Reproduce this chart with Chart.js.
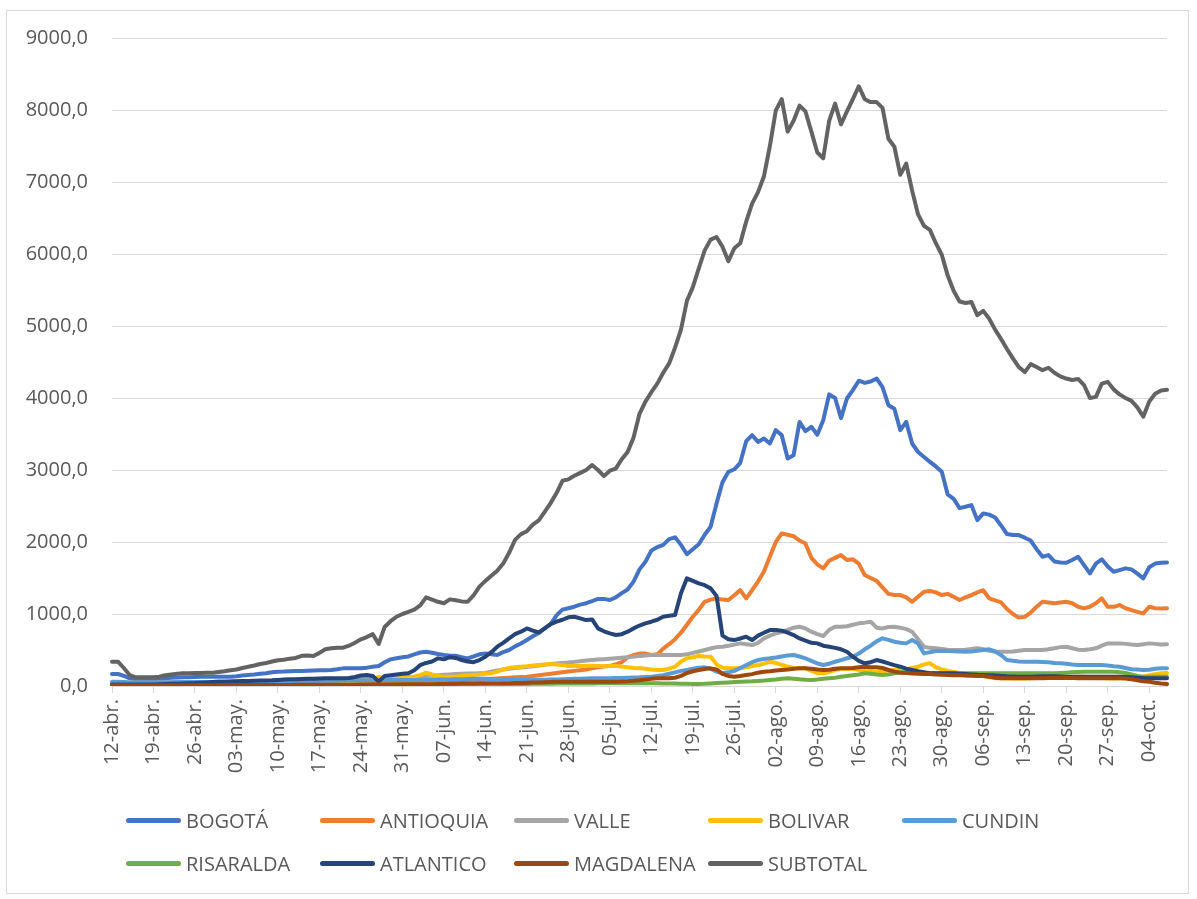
<!DOCTYPE html>
<html>
<head>
<meta charset="utf-8">
<script src="https://cdn.jsdelivr.net/npm/chart.js@4/dist/chart.umd.min.js"></script>
<style>
  html, body { margin:0; padding:0; background:#fff; }
  body { width:1197px; height:899px; position:relative; overflow:hidden; font-family:"Open Sans", sans-serif; }
  #frame { position:absolute; left:6px; top:10px; width:1183px; height:884px; border:1px solid #D9D9D9; box-sizing:border-box; }
  #wrap { position:absolute; left:0; top:0; width:1197px; height:899px; }
  .lg { position:absolute; display:flex; align-items:center; height:24px; color:#595959; font-size:20px; white-space:nowrap; }
  .lg span.ln { display:inline-block; width:55px; height:5px; border-radius:3px; margin-right:5px; }
</style>
</head>
<body>
<div id="frame"></div>
<div id="wrap"><canvas id="c"></canvas></div>
<div id="legend"></div>
<script>
// ---- categories (daily, 12-abr to 07-oct) ----
const startDate = [2020, 3, 12];
const monthNames = ['ene.','feb.','mar.','abr.','may.','jun.','jul.','ago.','sep.','oct.','nov.','dic.'];
const nDays = 179;
const categories = [];
for (let i = 0; i < nDays; i++) {
  const d = new Date(Date.UTC(startDate[0], startDate[1], startDate[2] + i));
  categories.push(String(d.getUTCDate()).padStart(2,'0') + '-' + monthNames[d.getUTCMonth()]);
}
const tickEvery = 7;
const yTicks = [0,1000,2000,3000,4000,5000,6000,7000,8000,9000];

// ---- series ----
const BOGOTA = [
167,167,140,107,95,93,93,93,100,108,
115,118,120,122,125,127,128,130,130,130,
130,135,145,153,160,170,178,190,197,200,
205,208,210,213,215,218,220,222,232,245,
245,245,245,255,268,278,330,370,385,400,
410,440,465,476,462,445,430,420,420,400,
384,410,440,453,440,430,470,500,550,590,
640,690,735,800,860,980,1060,1080,1101,1130,
1150,1180,1210,1210,1194,1230,1290,1340,1450,1620,
1725,1880,1930,1960,2040,2065,1960,1830,1900,1970,
2100,2211,2536,2830,2975,3010,3100,3400,3484,3390,
3437,3368,3553,3484,3160,3206,3668,3540,3600,3490,
3690,4050,4000,3720,3993,4110,4240,4210,4230,4271,
4150,3900,3850,3553,3668,3368,3250,3180,3113,3050,
2975,2660,2600,2470,2490,2512,2304,2397,2380,2340,
2230,2110,2096,2096,2060,2020,1900,1795,1818,1730,
1715,1711,1750,1795,1680,1564,1700,1760,1660,1587,
1610,1634,1620,1560,1495,1650,1700,1711,1715];

const ANTIOQUIA = [
30,30,30,28,28,28,28,28,30,30,
30,30,30,30,32,32,32,33,33,33,
35,35,36,37,38,38,40,40,40,42,
42,43,45,45,47,48,50,50,52,52,
55,55,55,58,58,60,60,62,65,65,
68,70,70,72,75,75,78,80,80,82,
85,88,90,95,100,105,110,115,120,125,
130,140,150,160,170,180,190,200,210,220,
230,245,260,270,280,300,330,400,430,450,
450,430,440,520,580,650,740,850,962,1060,
1170,1200,1217,1200,1194,1260,1332,1217,1330,1450,
1590,1800,2000,2119,2100,2080,2020,1980,1780,1690,
1634,1740,1780,1818,1750,1760,1700,1541,1500,1460,
1370,1280,1263,1263,1230,1170,1240,1309,1320,1300,
1263,1280,1240,1194,1230,1263,1300,1330,1217,1190,
1160,1070,1000,950,960,1020,1100,1170,1160,1148,
1160,1170,1150,1100,1078,1100,1150,1217,1100,1100,
1124,1080,1055,1030,1009,1101,1080,1078,1080];

const VALLE = [
50,50,50,50,48,48,48,48,50,50,
52,52,53,54,55,55,56,57,58,60,
60,62,62,64,65,66,68,70,70,72,
74,75,76,78,80,82,84,85,88,90,
92,95,98,100,102,105,108,110,115,120,
125,130,135,140,145,150,155,160,165,170,
172,175,178,182,200,215,230,240,250,258,
265,275,285,295,305,312,318,325,335,345,
355,362,367,372,378,385,393,400,408,415,
422,430,430,430,430,430,430,440,460,480,
500,520,540,546,560,575,592,580,569,600,
662,700,731,750,780,810,823,800,754,720,
694,780,823,823,830,850,870,880,893,810,
800,820,823,810,790,754,650,546,530,523,
515,505,500,500,505,515,523,510,490,476,
476,476,480,490,500,500,500,500,510,525,
540,546,525,505,500,510,523,560,592,592,
592,585,575,569,580,592,585,578,580];

const BOLIVAR = [
20,20,20,20,20,20,20,20,20,20,
20,20,22,22,22,22,22,22,24,24,
24,25,25,26,26,27,28,28,30,30,
32,32,34,35,36,38,40,42,44,46,
50,55,60,70,80,130,110,100,100,110,
120,130,150,185,160,140,130,130,130,140,
150,153,160,170,176,200,230,250,260,268,
275,285,292,300,305,300,290,278,278,278,
280,280,278,275,278,278,270,260,250,245,
240,230,222,222,240,268,340,384,400,416,
410,407,300,255,245,245,245,260,275,292,
310,337,320,292,270,250,245,245,210,180,
176,195,222,240,240,240,222,210,205,199,
205,215,222,222,230,250,268,300,315,260,
230,210,195,180,170,160,153,140,120,107,
107,107,105,105,105,107,110,110,112,115,
118,120,125,130,130,125,115,110,107,105,
107,110,115,120,130,150,165,176,180];

const CUNDIN = [
60,60,55,50,50,50,50,50,52,52,
52,54,55,55,55,55,56,56,58,58,
60,60,60,60,62,62,63,64,65,65,
66,66,68,68,70,70,72,72,74,75,
75,76,78,78,80,80,80,82,82,84,
85,85,86,88,90,90,92,92,94,95,
97,100,100,100,98,96,95,92,90,88,
85,85,86,88,90,92,95,98,100,102,
105,107,108,108,108,110,112,115,118,120,
125,130,140,150,170,190,210,222,240,255,
259,240,200,176,190,210,250,290,330,360,
375,384,395,410,425,430,410,384,350,315,
292,310,337,360,385,407,450,510,560,620,
662,640,615,600,592,638,590,453,470,485,
490,485,482,478,476,480,490,500,509,480,
430,361,350,340,337,337,337,335,330,320,
315,310,300,292,292,292,292,290,285,275,
268,250,232,228,222,225,240,245,245];

const RISARALDA = [
8,8,8,8,8,8,8,8,8,8,
9,9,9,9,9,10,10,10,10,10,
10,11,11,11,11,12,12,12,12,12,
13,13,13,13,14,14,14,15,15,15,
15,16,16,16,17,17,18,18,18,19,
19,20,20,20,21,21,22,22,22,23,
23,24,24,25,25,26,26,27,28,28,
29,30,30,31,32,33,33,34,35,35,
36,36,37,37,37,37,37,37,37,37,
37,37,37,36,35,34,32,30,28,28,
30,35,40,45,50,55,60,62,65,70,
75,83,90,100,107,100,93,88,85,90,
100,107,115,130,140,150,160,176,170,160,
153,160,175,190,199,190,180,176,176,176,
176,176,176,176,176,176,176,176,176,176,
176,176,176,176,176,176,176,176,176,176,
180,185,190,195,199,199,199,199,199,199,
190,180,160,140,130,130,130,130,130];

const ATLANTICO = [
20,20,20,20,20,20,20,22,25,28,
30,32,35,38,40,45,50,55,58,60,
62,65,68,70,72,75,78,80,85,90,
93,95,97,100,102,104,106,107,107,107,
110,125,145,153,139,60,139,150,160,170,
176,220,290,320,340,384,370,400,390,361,
340,330,360,407,470,546,600,662,720,754,
800,770,745,800,860,893,920,954,962,940,
916,925,800,760,731,708,720,754,800,840,
870,893,920,962,975,985,1287,1495,1460,1425,
1400,1356,1250,700,650,638,660,685,638,700,
740,777,777,768,740,708,660,630,600,592,
560,546,530,510,476,407,350,315,330,361,
340,315,290,268,240,222,205,190,176,176,
176,176,176,170,165,160,155,153,150,145,
140,135,132,130,130,130,132,135,135,135,
132,130,130,130,130,130,130,130,130,130,
128,125,120,115,110,107,107,107,107];

const MAGDALENA = [
10,10,10,10,10,10,10,10,10,10,
10,11,11,11,11,12,12,12,12,12,
13,13,13,13,14,14,14,14,15,15,
15,16,16,16,17,17,17,18,18,18,
19,19,20,20,20,21,21,22,22,23,
23,24,25,25,26,27,28,30,31,33,
35,36,37,37,37,37,37,38,40,42,
45,48,50,52,55,58,60,60,60,60,
60,60,60,60,60,60,62,66,72,80,
90,100,107,107,107,115,140,180,205,222,
235,245,230,170,140,130,140,153,165,185,
199,205,215,222,230,240,245,245,240,230,
222,225,240,245,245,250,260,268,262,259,
250,222,200,185,180,175,170,167,165,160,
155,153,150,148,145,142,140,139,130,115,
107,107,107,107,107,107,107,107,110,112,
116,112,110,107,107,107,107,107,107,107,
107,105,95,80,65,58,45,35,28];

const SUBTOTAL = [
337,337,250,150,120,120,120,120,130,150,
160,170,176,178,180,182,184,185,195,205,
220,230,250,268,285,305,320,340,358,365,
380,390,420,425,416,460,510,525,530,532,
560,600,648,680,720,583,820,900,962,1000,
1030,1060,1120,1231,1200,1170,1150,1203,1190,1175,
1170,1260,1380,1460,1530,1600,1700,1850,2030,2110,
2150,2240,2300,2420,2540,2680,2850,2870,2920,2960,
3000,3070,3000,2915,2990,3020,3150,3250,3450,3780,
3950,4080,4200,4350,4480,4700,4950,5350,5540,5800,
6050,6200,6236,6100,5900,6080,6150,6450,6700,6860,
7080,7500,7995,8150,7700,7850,8060,7980,7700,7410,
7330,7850,8088,7800,7980,8150,8330,8150,8110,8110,
8030,7600,7490,7100,7255,6880,6550,6390,6335,6150,
5990,5700,5490,5340,5320,5334,5150,5210,5100,4950,
4820,4680,4550,4430,4360,4470,4430,4386,4420,4350,
4300,4270,4250,4265,4180,4000,4016,4200,4224,4120,
4050,4000,3960,3870,3740,3950,4060,4105,4115];

const seriesNames  = ['BOGOTÁ','ANTIOQUIA','VALLE','BOLIVAR','CUNDIN','RISARALDA','ATLANTICO','MAGDALENA','SUBTOTAL'];
const seriesValues = [BOGOTA, ANTIOQUIA, VALLE, BOLIVAR, CUNDIN, RISARALDA, ATLANTICO, MAGDALENA, SUBTOTAL];
const seriesColors = ['#4472C4','#ED7D31','#A5A5A5','#FFC000','#5B9BD5','#70AD47','#264478','#9E480E','#636363'];

seriesValues.forEach((s, i) => { if (s.length !== nDays) console.warn(seriesNames[i] + ' length ' + s.length); });

const TXT = '#595959';
const GRID = '#D9D9D9';
const FONT = '"Open Sans", sans-serif';

const datasets = seriesValues.map((vals, i) => ({
  label: seriesNames[i],
  data: vals,
  borderColor: seriesColors[i],
  backgroundColor: seriesColors[i],
  borderWidth: 4,
  pointRadius: 0,
  pointHoverRadius: 0,
  tension: 0,
  fill: false,
  borderCapStyle: 'round',
  borderJoinStyle: 'round',
  order: seriesValues.length - 1 - i
}));

new Chart(document.getElementById('c'), {
  type: 'line',
  data: { labels: categories, datasets },
  options: {
    responsive: true,
    maintainAspectRatio: false,
    animation: false,
    devicePixelRatio: 1,
    layout: { padding: { left: 0, right: 22, top: 38, bottom: 0 } },
    plugins: { legend: { display: false }, tooltip: { enabled: false } },
    scales: {
      x: {
        type: 'category',
        offset: false,
        afterFit: s => { s.height = 213; },
        grid: {
          display: true,
          drawOnChartArea: false,
          drawTicks: true,
          tickLength: 7,
          color: ctx => (ctx.index % tickEvery === 0 ? GRID : 'rgba(0,0,0,0)'),
          lineWidth: 1
        },
        border: { display: true, color: GRID, width: 1 },
        ticks: {
          autoSkip: false,
          maxRotation: 90,
          minRotation: 90,
          padding: 6,
          color: TXT,
          font: { family: FONT, size: 20 },
          callback: (v, i) => (i % tickEvery === 0 ? categories[i] : '')
        }
      },
      y: {
        min: yTicks[0],
        max: yTicks[yTicks.length - 1],
        afterFit: s => { s.width = 112; },
        afterBuildTicks: s => { s.ticks = yTicks.map(v => ({ value: v })); },
        grid: { color: GRID, lineWidth: 1, drawTicks: false },
        border: { display: false },
        ticks: {
          padding: 24,
          color: TXT,
          font: { family: FONT, size: 20 },
          callback: v => v.toFixed(1).replace('.', ',')
        }
      }
    }
  }
});

// ---- legend (5 columns, 2 rows) ----
const lg = document.getElementById('legend');
seriesNames.forEach((name, i) => {
  const col = i % 5, row = Math.floor(i / 5);
  const el = document.createElement('div');
  el.className = 'lg';
  el.style.left = (126 + 194 * col) + 'px';
  el.style.top = (808 + 43 * row) + 'px';
  el.innerHTML = '<span class="ln" style="background:' + seriesColors[i] + '"></span>' + name;
  lg.appendChild(el);
});
</script>
</body>
</html>
